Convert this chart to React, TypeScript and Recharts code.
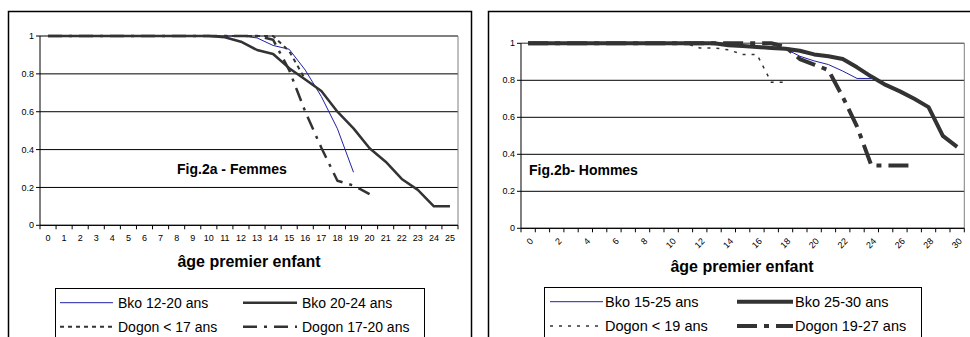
import React from 'react';
import { LineChart, Line, XAxis, YAxis, CartesianGrid, ReferenceLine, Text } from 'recharts';

const FONT = "Arial, 'Liberation Sans', Helvetica, sans-serif";

// ---------- Fig.2a - Femmes ----------
const agesF = [0, 1, 2, 3, 4, 5, 6, 7, 8, 9, 10, 11, 12, 13, 14, 15, 16, 17, 18, 19, 20, 21, 22, 23, 24, 25];
const bko1220 = [1, 1, 1, 1, 1, 1, 1, 1, 1, 1, 1, 1, 1, 0.99, 0.95, 0.93, 0.82, 0.68, 0.51, 0.28];
const bko2024 = [1, 1, 1, 1, 1, 1, 1, 1, 1, 1, 1, 0.993, 0.97, 0.926, 0.905, 0.83, 0.77, 0.71, 0.6, 0.512, 0.407, 0.336, 0.245, 0.187, 0.1, 0.1];
const dogon17 = [1, 1, 1, 1, 1, 1, 1, 1, 1, 1, 1, 1, 1, 1, 1, 0.92, 0.77];
const dogon1720 = [1, 1, 1, 1, 1, 1, 1, 1, 1, 1, 1, 1, 1, 1, 0.98, 0.82, 0.6, 0.41, 0.235, 0.21, 0.165];
const namesF = ['Bko 12-20 ans', 'Bko 20-24 ans', 'Dogon < 17 ans', 'Dogon 17-20 ans'];
const titleF = 'Fig.2a - Femmes';

// ---------- Fig.2b - Hommes ----------
const agesH = [0, 1, 2, 3, 4, 5, 6, 7, 8, 9, 10, 11, 12, 13, 14, 15, 16, 17, 18, 19, 20, 21, 22, 23, 24, 25, 26, 27, 28, 29, 30];
const bko1525 = [1, 1, 1, 1, 1, 1, 1, 1, 1, 1, 1, 1, 1, 1, 1, 0.99, 0.985, 0.98, 0.97, 0.93, 0.905, 0.885, 0.85, 0.81, 0.81];
const bko2530 = [1, 1, 1, 1, 1, 1, 1, 1, 1, 1, 1, 1, 1, 1, 0.99, 0.985, 0.98, 0.975, 0.97, 0.96, 0.94, 0.93, 0.915, 0.87, 0.82, 0.775, 0.74, 0.7, 0.655, 0.5, 0.44];
const dogon19 = [1, 1, 1, 1, 1, 1, 1, 1, 1, 1, 1, 1, 0.975, 0.975, 0.965, 0.94, 0.94, 0.79, 0.79];
const dogon1927 = [1, 1, 1, 1, 1, 1, 1, 1, 1, 1, 1, 1, 1, 1, 1, 1, 1, 1, 0.98, 0.915, 0.885, 0.855, 0.71, 0.55, 0.34, 0.34, 0.34, 0.34];
const namesH = ['Bko 15-25 ans', 'Bko 25-30 ans', 'Dogon < 19 ans', 'Dogon 19-27 ans'];
const titleH = 'Fig.2b- Hommes';

const yTicks = [0, 0.2, 0.4, 0.6, 0.8, 1];
const xTitle = 'âge premier enfant';

const BLUE = '#2020a8';
const DARK = '#333333';

type Style = { stroke: string; width: number; dash?: string };
const stylesF: Style[] = [
  { stroke: BLUE, width: 1 },
  { stroke: DARK, width: 2.5 },
  { stroke: DARK, width: 2, dash: '4 4' },
  { stroke: DARK, width: 2.5, dash: '14 7 3 7' },
];
const stylesH: Style[] = [
  { stroke: BLUE, width: 1 },
  { stroke: DARK, width: 4 },
  { stroke: DARK, width: 1.5, dash: '3 6' },
  { stroke: DARK, width: 4, dash: '20 7 5 7' },
];

function buildRows(ages: number[], series: number[][]) {
  return ages.map((a, i) => {
    const row: any = { age: a };
    series.forEach((s, k) => {
      row['s' + k] = s[i];
    });
    return row;
  });
}

const rowsF = buildRows(agesF, [bko1220, bko2024, dogon17, dogon1720]);
const rowsH = buildRows(agesH, [bko1525, bko2530, dogon19, dogon1927]);

function makeTick(half: number, last: number, every: number, rotate: boolean) {
  return (props: any) => {
    const { x, y, payload } = props;
    const v = payload.value;
    const axisY = y - 6;
    return (
      <g>
        <line x1={x - half} x2={x - half} y1={axisY} y2={axisY + 4} stroke="#000" />
        {v === last && <line x1={x + half} x2={x + half} y1={axisY} y2={axisY + 4} stroke="#000" />}
        {v % every === 0 &&
          (rotate ? (
            <Text
              x={x + 1}
              y={axisY + 9}
              angle={-45}
              textAnchor="end"
              verticalAnchor="start"
              fontSize={9}
              fontFamily={FONT}
              fill="#000"
            >
              {String(v)}
            </Text>
          ) : (
            <text x={x} y={axisY + 16} textAnchor="middle" fontSize={9} fontFamily={FONT} fill="#000">
              {v}
            </text>
          ))}
      </g>
    );
  };
}

function Panel(props: {
  rows: any[];
  ages: number[];
  styles: Style[];
  width: number;
  height: number;
  margin: any;
  half: number;
  every: number;
  rotate: boolean;
}) {
  const { rows, ages, styles, width, height, margin, half, every, rotate } = props;
  const last = ages[ages.length - 1];
  return (
    <LineChart width={width} height={height} data={rows} margin={margin}>
      <CartesianGrid horizontal vertical={false} stroke="#000" strokeWidth={1} />
      <XAxis
        dataKey="age"
        type="number"
        domain={[ages[0] - 0.5, last + 0.5]}
        ticks={ages}
        interval={0}
        tickSize={4}
        tickMargin={2}
        tickLine={false}
        axisLine={{ stroke: '#000' }}
        height={20}
        tick={makeTick(half, last, every, rotate)}
        allowDataOverflow
      />
      <YAxis
        type="number"
        domain={[0, 1]}
        ticks={yTicks}
        interval={0}
        tickSize={4}
        tickMargin={2}
        width={40}
        axisLine={{ stroke: '#000' }}
        tickLine={{ stroke: '#000' }}
        tick={{ fontSize: 9, fontFamily: FONT, fill: '#000' }}
      />
      <ReferenceLine y={1} stroke="#808080" />
      <ReferenceLine x={last + 0.5} stroke="#808080" />
      {styles.map((st, k) => (
        <Line
          key={k}
          type="linear"
          dataKey={'s' + k}
          stroke={st.stroke}
          strokeWidth={st.width}
          strokeDasharray={st.dash}
          dot={false}
          activeDot={false}
          isAnimationActive={false}
          strokeLinecap="butt"
          strokeLinejoin="round"
        />
      ))}
    </LineChart>
  );
}

function Legend(props: {
  names: string[];
  styles: Style[];
  box: [number, number, number];
  cols: [number, number, number][];
  rows: [number, number][];
  fontSize: number;
}) {
  const { names, styles, box, cols, rows, fontSize } = props;
  const [bx1, bx2, by] = box;
  return (
    <g>
      <rect x={bx1} y={by} width={bx2 - bx1} height={80} fill="#fff" stroke="#000" strokeWidth={1} />
      {names.map((n, k) => {
        const c = cols[k % 2];
        const r = rows[Math.floor(k / 2)];
        const st = styles[k];
        return (
          <g key={k}>
            <line
              x1={c[0]}
              x2={c[1]}
              y1={r[0]}
              y2={r[0]}
              stroke={st.stroke}
              strokeWidth={st.width}
              strokeDasharray={st.dash}
            />
            <text x={c[2]} y={r[1]} fontSize={fontSize} fontFamily={FONT} fill="#000">
              {n}
            </text>
          </g>
        );
      })}
    </g>
  );
}

export default function App() {
  return (
    <div style={{ position: 'absolute', left: 0, top: 0, width: 970, height: 337, background: '#fff', overflow: 'hidden' }}>
      <svg width={970} height={337} style={{ position: 'absolute', left: 0, top: 0 }}>
        <rect x={8.5} y={11.5} width={463} height={340} fill="#fff" stroke="#000" strokeWidth={1.5} />
        <rect x={488.5} y={11.5} width={500} height={340} fill="#fff" stroke="#000" strokeWidth={1.5} />
      </svg>
      <div style={{ position: 'absolute', left: 0, top: 0 }}>
        <Panel
          rows={rowsF}
          ages={agesF}
          styles={stylesF}
          width={480}
          height={250}
          margin={{ top: 36, right: 22, left: 0, bottom: 4.7 }}
          half={418 / 26 / 2}
          every={1}
          rotate={false}
        />
      </div>
      <div style={{ position: 'absolute', left: 480.7, top: 0 }}>
        <Panel
          rows={rowsH}
          ages={agesH}
          styles={stylesH}
          width={489.3}
          height={260}
          margin={{ top: 43.3, right: 6, left: 0, bottom: 11.7 }}
          half={443.3 / 31 / 2}
          every={2}
          rotate={true}
        />
      </div>
      <svg width={970} height={337} style={{ position: 'absolute', left: 0, top: 0, pointerEvents: 'none' }}>
        <text x={177} y={174} fontSize={14} fontWeight="bold" fontFamily={FONT} fill="#000">
          {titleF}
        </text>
        <text x={529} y={175} fontSize={14} fontWeight="bold" fontFamily={FONT} fill="#000">
          {titleH}
        </text>
        <text x={249} y={267} fontSize={16} fontWeight="bold" fontFamily={FONT} fill="#000" textAnchor="middle">
          {xTitle}
        </text>
        <text x={742} y={272} fontSize={16} fontWeight="bold" fontFamily={FONT} fill="#000" textAnchor="middle">
          {xTitle}
        </text>
        <Legend
          names={namesF}
          styles={stylesF}
          box={[55.5, 424.5, 288.5]}
          cols={[
            [60, 113, 118],
            [243, 297, 302],
          ]}
          rows={[
            [302.7, 307.7],
            [326.7, 331.5],
          ]}
          fontSize={14}
        />
        <Legend
          names={namesH}
          styles={stylesH}
          box={[544.5, 921.5, 287.5]}
          cols={[
            [550, 603, 605],
            [737, 793, 795],
          ]}
          rows={[
            [301.7, 306.5],
            [326, 331],
          ]}
          fontSize={14.5}
        />
      </svg>
    </div>
  );
}
